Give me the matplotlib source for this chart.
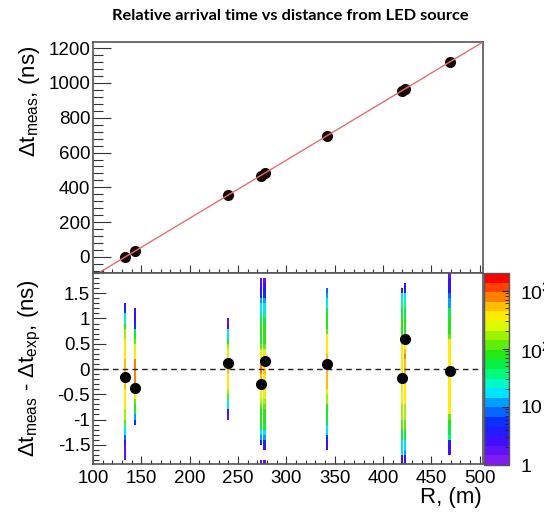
import numpy as np
import matplotlib
matplotlib.use("Agg")
import matplotlib.pyplot as plt
from matplotlib.colors import LogNorm, ListedColormap, LinearSegmentedColormap
from matplotlib.ticker import MultipleLocator, LogLocator, NullFormatter, FixedLocator, FixedFormatter

plt.rcParams["font.family"] = ["Liberation Sans", "DejaVu Sans"]
plt.rcParams["mathtext.fontset"] = "custom"
plt.rcParams["mathtext.rm"] = "Liberation Sans"
plt.rcParams["mathtext.it"] = "Liberation Sans:italic"
plt.rcParams["axes.unicode_minus"] = False

# Distance of each PMT from the LED source (m)
R_m = [133.2, 143.5, 239.6, 274.0, 277.5, 342.2, 419.9, 422.6, 468.9]
# Measured relative arrival time (ns)
dt_meas = [0, 35, 354, 468, 481, 696, 956, 966, 1120]
# Mean residual, measured minus expected (ns)
dt_resid = [-0.15, -0.38, 0.12, -0.30, 0.16, 0.10, -0.17, 0.60, -0.04]

# Residual histogram: bin edges along the residual axis (ns) and the
# per-event counts of each PMT column, listed from the lowest bin upward
resid_edges = np.round(np.arange(-1.9, 1.9001, 0.1), 2)
resid_counts = [
    [0, 2, 2, 2, 3, 8, 15, 30, 100, 150, 200, 300, 350, 400, 400, 450, 500, 500, 500,
     500, 450, 400, 400, 350, 300, 200, 150, 80, 25, 15, 5, 3, 0, 0, 0, 0, 0, 0],
    [0, 0, 0, 0, 0, 0, 0, 0, 5, 12, 50, 80, 100, 300, 700, 800, 900, 900, 900,
     900, 800, 400, 300, 250, 100, 80, 50, 5, 4, 3, 3, 0, 0, 0, 0, 0, 0, 0],
    [0, 0, 0, 0, 0, 0, 0, 0, 0, 2, 3, 15, 25, 100, 200, 300, 350, 400, 600,
     700, 600, 400, 250, 150, 80, 20, 15, 3, 2, 0, 0, 0, 0, 0, 0, 0, 0, 0],
    [2, 0, 0, 0, 5, 12, 20, 50, 70, 80, 90, 100, 150, 250, 300, 350, 400, 600, 700,
     700, 400, 300, 250, 120, 90, 80, 80, 70, 60, 40, 20, 15, 12, 5, 4, 3, 2, 0],
    [2, 0, 0, 3, 6, 12, 20, 50, 70, 80, 90, 100, 150, 250, 300, 350, 400, 400, 450,
     400, 350, 300, 250, 120, 90, 80, 80, 70, 60, 40, 20, 15, 10, 5, 4, 3, 2, 0],
    [0, 0, 0, 3, 3, 5, 15, 20, 50, 60, 70, 80, 150, 200, 250, 450, 500, 600, 600,
     600, 500, 450, 350, 300, 300, 250, 100, 80, 70, 60, 50, 25, 15, 12, 8, 0, 0, 0],
    [3, 3, 15, 15, 20, 60, 60, 100, 120, 150, 150, 200, 300, 350, 350, 400, 400, 400, 400,
     400, 400, 350, 350, 300, 300, 100, 80, 80, 70, 60, 60, 40, 30, 20, 4, 0, 0, 0],
    [3, 3, 12, 15, 20, 50, 60, 100, 120, 150, 150, 200, 300, 350, 350, 400, 400, 400, 450,
     500, 600, 650, 600, 350, 300, 100, 80, 80, 70, 60, 50, 40, 30, 15, 4, 3, 0, 0],
    [0, 0, 3, 3, 4, 40, 60, 60, 70, 100, 300, 350, 350, 350, 400, 400, 400, 400, 400,
     400, 400, 400, 350, 350, 300, 100, 80, 80, 70, 60, 50, 12, 10, 8, 4, 3, 3, 2],
]
column_width = 2.5  # m

cbar_ticks = [1, 10, 100, 1000]
cbar_labels = ["1", "10", r"$10^{2}$", r"$10^{3}$"]

# 20-level rainbow palette, violet to red
palette_nodes = [
    (0.00, (0.50, 0.10, 0.95)),
    (0.10, (0.25, 0.05, 1.00)),
    (0.20, (0.05, 0.15, 1.00)),
    (0.30, (0.00, 0.55, 1.00)),
    (0.38, (0.00, 0.95, 1.00)),
    (0.46, (0.00, 1.00, 0.55)),
    (0.56, (0.05, 0.90, 0.10)),
    (0.68, (0.60, 0.95, 0.00)),
    (0.77, (1.00, 1.00, 0.00)),
    (0.85, (1.00, 0.72, 0.00)),
    (0.92, (1.00, 0.40, 0.00)),
    (1.00, (1.00, 0.00, 0.00)),
]
smooth = LinearSegmentedColormap.from_list("palette", palette_nodes)
cmap = ListedColormap(smooth(np.linspace(0, 1, 20)))
norm = LogNorm(vmin=1, vmax=2000)

W, H = 544, 512
fig = plt.figure(figsize=(W / 100, H / 100), dpi=100)
frame_col = "#555555"

ax1 = fig.add_axes([93 / W, 1 - 273 / H, 390 / W, 231 / H])
ax2 = fig.add_axes([93 / W, 1 - 464 / H, 390 / W, 191 / H])
cax = fig.add_axes([484 / W, 1 - 465 / H, 25 / W, 192 / H])

xlim = (100, 503.5)

# ---- top panel: arrival time vs distance with linear fit
slope, icpt = np.polyfit(R_m, dt_meas, 1)
xfit = np.array(xlim)
ax1.plot(R_m, dt_meas, "o", color="#1a0505", ms=7, zorder=3)
ax1.plot(xfit, slope * xfit + icpt, color="#e07070", lw=1.0, zorder=4)
ax1.set_xlim(*xlim)
ax1.set_ylim(-92, 1235)
ax1.yaxis.set_major_locator(MultipleLocator(200))
ax1.yaxis.set_minor_locator(MultipleLocator(40))
ax1.xaxis.set_major_locator(MultipleLocator(50))
ax1.xaxis.set_minor_locator(MultipleLocator(10))
ax1.tick_params(axis="x", which="both", direction="in", labelbottom=False)
ax1.tick_params(axis="x", which="major", length=6, width=0.8, color="#333333")
ax1.tick_params(axis="x", which="minor", length=3, width=0.8, color="#333333")
ax1.tick_params(axis="y", which="both", direction="in", labelsize=13.5, pad=2, color="#333333")
ax1.tick_params(axis="y", which="major", length=13, width=0.8)
ax1.tick_params(axis="y", which="minor", length=7, width=0.8)

# ---- bottom panel: residual distributions per PMT
mesh = None
for r, cnt in zip(R_m, resid_counts):
    z = np.ma.masked_equal(np.array(cnt, dtype=float), 0)[:, None]
    xe = [r - column_width / 2, r + column_width / 2]
    mesh = ax2.pcolormesh(xe, resid_edges, z, cmap=cmap, norm=norm, zorder=1)
ax2.axhline(0, color="#222222", lw=1.0, ls=(0, (4, 3)), zorder=2)
ax2.plot(R_m, dt_resid, "o", color="black", ms=7, zorder=3)
ax2.set_xlim(*xlim)
ax2.set_ylim(-1.88, 1.9)
ax2.yaxis.set_major_locator(MultipleLocator(0.5))
ax2.yaxis.set_minor_locator(MultipleLocator(0.1))
ax2.yaxis.set_major_formatter(plt.FuncFormatter(lambda v, p: "%g" % round(v, 2)))
ax2.xaxis.set_major_locator(MultipleLocator(50))
ax2.xaxis.set_minor_locator(MultipleLocator(10))
ax2.tick_params(axis="both", which="both", direction="in", labelsize=13.5, color="#333333")
ax2.tick_params(axis="x", which="major", length=6, width=0.8, pad=4)
ax2.tick_params(axis="x", which="minor", length=3, width=0.8)
ax2.tick_params(axis="y", which="major", length=9, width=0.8, pad=2)
ax2.tick_params(axis="y", which="minor", length=4.5, width=0.8)

for ax in (ax1, ax2):
    for s in ax.spines.values():
        s.set_color(frame_col)
        s.set_linewidth(1.2)

# ---- colour scale
cb = fig.colorbar(mesh, cax=cax)
cb.outline.set_edgecolor(frame_col)
cb.outline.set_linewidth(1.0)
cax.yaxis.set_major_locator(FixedLocator(cbar_ticks))
cax.yaxis.set_major_formatter(FixedFormatter(cbar_labels))
cax.yaxis.set_minor_locator(LogLocator(base=10, subs=np.arange(2, 10)))
cax.yaxis.set_minor_formatter(NullFormatter())
cax.tick_params(axis="y", which="both", direction="in", labelsize=14, pad=8, color="#222222")
cax.tick_params(axis="y", which="major", length=5)
cax.tick_params(axis="y", which="minor", length=3)

# ---- texts
fig.text(290 / W, 1 - 16 / H, "Relative arrival time vs distance from LED source",
         ha="center", va="center", fontsize=11.8, fontweight="bold", family="Lato")
fig.text(30 / W, 1 - 101 / H, r"$\Delta\mathrm{t}_{\mathrm{meas}}$, (ns)",
         rotation=90, ha="center", va="center", fontsize=16)
fig.text(30 / W, 1 - 368 / H,
         r"$\Delta\mathrm{t}_{\mathrm{meas}}$ - $\Delta\mathrm{t}_{\mathrm{exp}}$, (ns)",
         rotation=90, ha="center", va="center", fontsize=16)
fig.text(482 / W, 1 - 498 / H, "R, (m)", ha="right", va="center", fontsize=16)

fig.savefig("out.png", dpi=100)
